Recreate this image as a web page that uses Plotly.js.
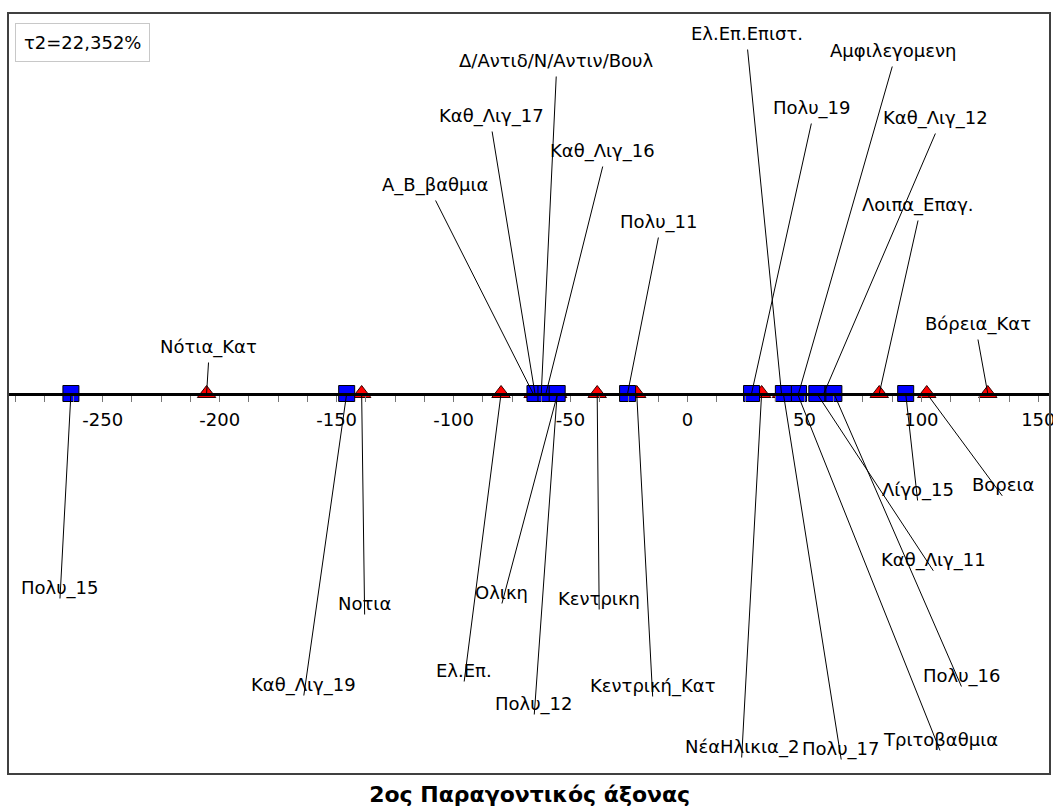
<!DOCTYPE html>
<html>
<head>
<meta charset="utf-8">
<script src="https://cdn.plot.ly/plotly-3.0.1.min.js"></script>
<style>html,body{margin:0;padding:0;background:#ffffff;}</style>
</head>
<body>
<div id="chart" style="width:1053px;height:810px;"></div>
<script>
// ---- data ----
const labels = [
  'Δ/Αντιδ/Ν/Αντιν/Βουλ', 'Καθ_Λιγ_17', 'Α_Β_βαθμια', 'Καθ_Λιγ_16', 'Πολυ_11',
  'Νότια_Κατ', 'Ελ.Επ.Επιστ.', 'Αμφιλεγομενη', 'Πολυ_19', 'Καθ_Λιγ_12',
  'Λοιπα_Επαγ.', 'Βόρεια_Κατ',
  'Πολυ_15', 'Καθ_Λιγ_19', 'Νοτια', 'Ολικη', 'Ελ.Επ.', 'Πολυ_12', 'Κεντρικη',
  'Κεντρική_Κατ', 'ΝέαΗλικια_2', 'Πολυ_17', 'Τριτοβαθμια', 'Πολυ_16',
  'Καθ_Λιγ_11', 'Λίγο_15', 'Βορεια'
];
const coords = [
  -62.5, -65.2, -66.0, -60.5, -25.6,
  -205.6, 40.2, 47.5, 27.4, 58.3,
  82.0, 128.4,
  -263.6, -145.7, -139.3, -55.5, -79.7, -55.7, -38.6,
  -21.7, 31.7, 41.0, 47.0, 62.6,
  55.3, 93.3, 102.3
];
// 'tri' = red triangles, 'sq' = blue squares
const groups = [
  'tri', 'sq', 'tri', 'sq', 'sq',
  'tri', 'tri', 'sq', 'sq', 'sq',
  'tri', 'tri',
  'sq', 'sq', 'tri', 'tri', 'tri', 'sq', 'tri',
  'tri', 'tri', 'sq', 'tri', 'sq',
  'sq', 'sq', 'tri'
];
const tickValues = [-250, -200, -150, -100, -50, 0, 50, 100, 150];
const tickLabels = ['-250', '-200', '-150', '-100', '-50', '0', '50', '100', '150'];
const inertiaNote = 'τ2=22,352%';
const axisTitle = '2ος Παραγοντικός άξονας';

// ---- label placement (layout): offset of each label centre from its point, in pixels ----
const labelOffsets = [
  [15, -333], [-43, -278], [-98, -209], [57, -243], [31, -172],
  [2, -47], [-34, -360], [94, -343], [60, -286], [112, -276],
  [39, -189], [-10, -70],
  [-11, 194], [-43, 291], [3, 210], [-56, 199], [-37, 277], [-23, 310], [2, 205],
  [16, 292], [-20, 353], [58, 355], [143, 346], [128, 282],
  [117, 166], [12, 96], [76, 91]
];

const FONT = 'DejaVu Sans, Verdana, sans-serif';

function pick(arr, g) { return arr.filter((_, i) => groups[i] === g); }

const triX = pick(coords, 'tri');
const sqX = pick(coords, 'sq');

const traces = [
  {
    type: 'scatter', mode: 'markers',
    x: triX, y: triX.map(() => 0),
    text: pick(labels, 'tri'),
    marker: { symbol: 'triangle-up', size: 16, color: '#ff0000', line: { color: '#300000', width: 1 } },
    hoverinfo: 'text', showlegend: false, cliponaxis: false
  },
  {
    type: 'scatter', mode: 'markers',
    x: sqX, y: sqX.map(() => 0),
    text: pick(labels, 'sq'),
    marker: { symbol: 'square', size: 16, color: '#0000ff', line: { color: '#000000', width: 1 } },
    hoverinfo: 'text', showlegend: false, cliponaxis: false
  }
];

const annotations = [];
labels.forEach((t, i) => {
  const dx = labelOffsets[i][0], dy = labelOffsets[i][1];
  const tail = dy < 0 ? dy + 15 : dy + 12;
  // leader line
  annotations.push({
    x: coords[i], y: 0, xref: 'x', yref: 'y',
    text: ' ', font: { size: 1 }, borderpad: 0,
    showarrow: true, arrowhead: 0, arrowwidth: 1, arrowcolor: '#000000',
    ax: dx, ay: tail, standoff: 0, startstandoff: 0
  });
  // label text
  annotations.push({
    x: coords[i], y: 0, xref: 'x', yref: 'y',
    text: t, showarrow: false, xanchor: 'center', yanchor: 'middle',
    xshift: dx, yshift: -dy,
    font: { family: FONT, size: 18, color: '#000000' }
  });
});

annotations.push({
  xref: 'paper', yref: 'paper', x: 0.0067, y: 0.987, xanchor: 'left', yanchor: 'top',
  text: inertiaNote, showarrow: false,
  font: { family: FONT, size: 18, color: '#000000' },
  bgcolor: '#ffffff', bordercolor: '#c8c8c8', borderwidth: 1, borderpad: 8
});

const layout = {
  width: 1053, height: 810,
  margin: { l: 8, r: 3, t: 13, b: 36 },
  paper_bgcolor: '#ffffff', plot_bgcolor: '#ffffff',
  font: { family: FONT, color: '#000000' },
  showlegend: false,
  title: {
    text: axisTitle, xref: 'container', yref: 'container',
    x: 0.503, xanchor: 'center', y: 0.019, yanchor: 'middle',
    font: { family: FONT, size: 22, weight: 'bold', color: '#000000' }
  },
  xaxis: {
    range: [-290.5, 155.0], anchor: 'free', position: 0.5,
    showgrid: false, zeroline: false,
    showline: true, linecolor: '#000000', linewidth: 3,
    tickmode: 'array', tickvals: tickValues, ticktext: tickLabels,
    ticks: 'outside', ticklen: 6, tickwidth: 1, tickcolor: '#777777',
    ticklabelstandoff: 3, ticklabeloverflow: 'allow',
    minor: { dtick: 12.5, tick0: 0, ticks: 'outside', ticklen: 6, tickwidth: 1, tickcolor: '#777777', showgrid: false },
    tickfont: { family: FONT, size: 18, color: '#000000' },
    fixedrange: true
  },
  yaxis: {
    range: [-1, 1], visible: false, showgrid: false, zeroline: false, fixedrange: true
  },
  shapes: [
    { type: 'rect', xref: 'paper', yref: 'paper', x0: 0, x1: 1, y0: 0, y1: 1,
      line: { color: '#404040', width: 2 }, fillcolor: 'rgba(0,0,0,0)', layer: 'above' }
  ],
  annotations: annotations
};

Plotly.newPlot('chart', traces, layout, { displayModeBar: false, staticPlot: true });
</script>
</body>
</html>
